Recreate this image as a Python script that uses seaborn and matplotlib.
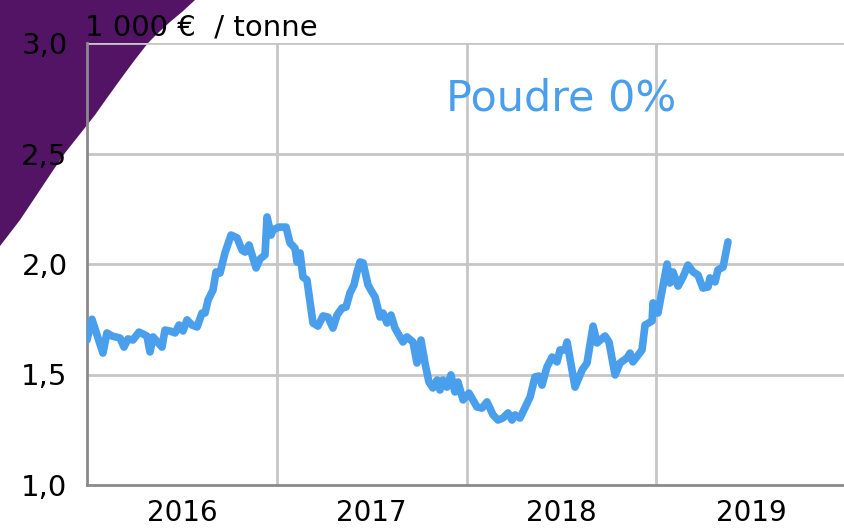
import matplotlib
matplotlib.use("Agg")
import matplotlib.pyplot as plt
from matplotlib.patches import Polygon
import seaborn as sns
import pandas as pd

# Prix de la poudre 0% (1 000 EUR / tonne), temps en annee decimale
annee = [
    2016.000, 2016.026, 2016.084, 2016.105, 2016.132, 2016.174, 2016.195, 2016.216,
    2016.242, 2016.274, 2016.316, 2016.332, 2016.348, 2016.395, 2016.411, 2016.437,
    2016.464, 2016.485, 2016.506, 2016.527, 2016.553, 2016.580, 2016.606, 2016.622,
    2016.638, 2016.664, 2016.680, 2016.701, 2016.727, 2016.759, 2016.791, 2016.817,
    2016.833, 2016.854, 2016.875, 2016.891, 2016.912, 2016.938, 2016.949, 2016.970,
    2016.980, 2017.012, 2017.049, 2017.070, 2017.096, 2017.107, 2017.123, 2017.138,
    2017.159, 2017.191, 2017.217, 2017.244, 2017.270, 2017.296, 2017.318, 2017.344,
    2017.365, 2017.386, 2017.407, 2017.423, 2017.439, 2017.455, 2017.481, 2017.502,
    2017.518, 2017.544, 2017.560, 2017.581, 2017.602, 2017.623, 2017.665, 2017.686,
    2017.718, 2017.739, 2017.760, 2017.781, 2017.802, 2017.823, 2017.845, 2017.860,
    2017.876, 2017.897, 2017.918, 2017.939, 2017.955, 2017.982, 2018.013, 2018.055,
    2018.082, 2018.108, 2018.140, 2018.166, 2018.192, 2018.219, 2018.240, 2018.256,
    2018.282, 2018.335, 2018.361, 2018.382, 2018.398, 2018.424, 2018.451, 2018.477,
    2018.493, 2018.519, 2018.530, 2018.572, 2018.609, 2018.635, 2018.667, 2018.688,
    2018.730, 2018.751, 2018.783, 2018.809, 2018.846, 2018.862, 2018.877, 2018.925,
    2018.941, 2018.978, 2018.983, 2019.009, 2019.057, 2019.072, 2019.088, 2019.115,
    2019.141, 2019.167, 2019.194, 2019.220, 2019.246, 2019.273, 2019.283, 2019.310,
    2019.325, 2019.352, 2019.378,
]
prix = [
    1.656, 1.750, 1.597, 1.688, 1.674, 1.665, 1.624, 1.661,
    1.656, 1.692, 1.674, 1.602, 1.670, 1.624, 1.701, 1.697,
    1.688, 1.724, 1.697, 1.747, 1.724, 1.715, 1.778, 1.778,
    1.837, 1.882, 1.964, 1.959, 2.050, 2.131, 2.118, 2.063,
    2.054, 2.086, 2.027, 1.982, 2.023, 2.041, 2.213, 2.131,
    2.154, 2.167, 2.167, 2.095, 2.072, 2.009, 2.050, 1.941,
    1.928, 1.733, 1.719, 1.765, 1.760, 1.710, 1.769, 1.801,
    1.805, 1.869, 1.905, 1.964, 2.009, 2.005, 1.905, 1.873,
    1.851, 1.760, 1.778, 1.733, 1.769, 1.710, 1.647, 1.670,
    1.647, 1.552, 1.656, 1.552, 1.466, 1.439, 1.475, 1.430,
    1.475, 1.443, 1.498, 1.421, 1.466, 1.385, 1.416, 1.353,
    1.348, 1.376, 1.317, 1.294, 1.303, 1.326, 1.294, 1.317,
    1.303, 1.398, 1.489, 1.493, 1.452, 1.534, 1.579, 1.557,
    1.611, 1.611, 1.647, 1.443, 1.520, 1.552, 1.719, 1.643,
    1.674, 1.647, 1.498, 1.552, 1.575, 1.597, 1.557, 1.611,
    1.724, 1.742, 1.824, 1.778, 2.000, 1.914, 1.964, 1.900,
    1.941, 1.995, 1.964, 1.950, 1.891, 1.896, 1.937, 1.919,
    1.973, 1.986, 2.100,
]
annees_labels = ["2016", "2017", "2018", "2019"]
y_ticks = [1.0, 1.5, 2.0, 2.5, 3.0]

df = pd.DataFrame({"annee": annee, "prix": prix})

sns.set_style("white")
plt.rcParams["font.family"] = ["DejaVu Sans"]
plt.rcParams["text.color"] = "black"
plt.rcParams["xtick.labelcolor"] = "black"
plt.rcParams["ytick.labelcolor"] = "black"

blue = "#4a9fec"
grid_c = "#c6c6c6"
axis_c = "#8a8a8a"

fig = plt.figure(figsize=(8.45, 5.28), dpi=100)

# bandeau violet en haut a gauche (decor)
W, H = 845, 528
curve = [(0, 0), (195, 0), (182, 12), (170, 22), (158, 33), (148, 43), (134, 61),
         (120, 80), (107, 98), (95, 115), (80, 134), (65, 153), (52, 172),
         (40, 190), (30, 205), (20, 220), (10, 233), (0, 246)]
fig.patches.append(Polygon([(x / W, 1 - y / H) for x, y in curve], closed=True,
                           transform=fig.transFigure, facecolor="#541466",
                           edgecolor="none", zorder=-5))

ax = fig.add_axes([87 / W, 43 / H, 759 / W, 442 / H])
ax.set_zorder(1)
ax.patch.set_alpha(0)

sns.lineplot(data=df, x="annee", y="prix", ax=ax, color=blue, linewidth=5.5,
             solid_joinstyle="round", solid_capstyle="round", zorder=3)

ax.set_xlim(2016, 2020)
ax.set_ylim(1.0, 3.0)
ax.set_yticks(y_ticks)
ax.set_yticklabels([f"{v:.1f}".replace(".", ",") for v in y_ticks], fontsize=21)
ax.set_xticks([2016, 2017, 2018, 2019, 2020])
ax.set_xticklabels([])
ax.set_xticks([2016.5, 2017.5, 2018.5, 2019.5], minor=True)
ax.set_xticklabels(annees_labels, minor=True, fontsize=20)
ax.tick_params(axis="x", which="minor", length=0, pad=10)
ax.tick_params(axis="x", which="major", length=10, width=1.5, color=axis_c)
ax.tick_params(axis="y", length=10, width=1.5, color=axis_c, pad=4)

for v in y_ticks[1:]:
    ax.axhline(v, color=grid_c, lw=2, zorder=1)
for yr in [2017, 2018, 2019]:
    ax.axvline(yr, color=grid_c, lw=2, zorder=1)

for s in ["top", "right"]:
    ax.spines[s].set_visible(False)
ax.spines["left"].set_color(axis_c)
ax.spines["left"].set_linewidth(2)
ax.spines["bottom"].set_color(axis_c)
ax.spines["bottom"].set_linewidth(2)
ax.set_xlabel("")
ax.set_ylabel("")

fig.text(85 / W, 1 - 36 / H, "1 000 €  / tonne", fontsize=21, va="baseline",
         color="black")
ax.text(0.625, 0.875, "Poudre 0%", transform=ax.transAxes, color=blue,
        fontsize=31, ha="center", va="center")

fig.savefig("out.png", dpi=100)
